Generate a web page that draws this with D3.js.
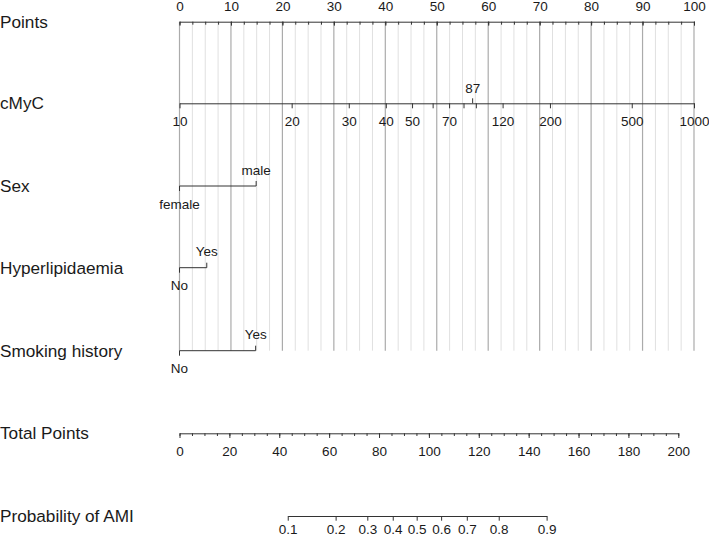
<!DOCTYPE html>
<html>
<head>
<meta charset="utf-8">
<script src="https://cdn.jsdelivr.net/npm/d3@7"></script>
<style>
  body { margin: 0; background: #fff; }
  svg text { font-family: "Liberation Sans", Arial, sans-serif; }
</style>
</head>
<body>
<div id="chart"></div>
<script>
// nomogram values
const rowNames = ["Points", "cMyC", "Sex", "Hyperlipidaemia", "Smoking history", "Total Points", "Probability of AMI"];

const pointsTicks = [0, 10, 20, 30, 40, 50, 60, 70, 80, 90, 100];

// cMyC value -> points
const cmycValues = [10, 20, 30, 40, 50, 60, 70, 80, 90, 120, 200, 500, 1000];
const cmycPoints = [0, 21.8, 32.9, 40.1, 45.2, 49.2, 52.4, 55.2, 57.6, 62.8, 72.0, 87.9, 100];
const cmycLabels = [10, 20, 30, 40, 50, 70, 120, 200, 500, 1000];
const cmycMark = [87];

const sexLevels = ["female", "male"];
const sexPoints = [0, 14.9];
const hyperLevels = ["No", "Yes"];
const hyperPoints = [0, 5.3];
const smokeLevels = ["No", "Yes"];
const smokePoints = [0, 14.8];

const totalTicks = [0, 20, 40, 60, 80, 100, 120, 140, 160, 180, 200];

// probability -> total points
const probValues = [0.1, 0.2, 0.3, 0.4, 0.5, 0.6, 0.7, 0.8, 0.9];
const probTotal = [43.4, 62.6, 75.3, 85.5, 95.1, 104.9, 115.2, 128.0, 147.2];

const width = 709, height = 538;
const rowY = [21.7, 103.3, 186, 267.7, 350.7, 433.3, 516];
const lineColor = "#333";
const textColor = "#1a1a1a";
const tickFont = 13.5;

const svg = d3.select("#chart").append("svg")
    .attr("width", width)
    .attr("height", height);

const x = d3.scaleLinear().domain([0, 100]).range([179.5, 694]);
const xTotal = d3.scaleLinear().domain([0, 200]).range([179.5, 678.3]);
const xCmyc = d3.scaleLinear().domain(cmycValues).range(cmycPoints.map(p => x(p)));
const xProb = d3.scaleLinear().domain(probValues).range(probTotal.map(t => xTotal(t)));

// grid lines behind everything
const grid = svg.append("g").attr("class", "grid");
grid.selectAll("line")
    .data(d3.range(0, 100.01, 2.5))
    .enter().append("line")
    .attr("x1", d => x(d))
    .attr("x2", d => x(d))
    .attr("y1", rowY[0])
    .attr("y2", rowY[4])
    .attr("stroke", d => d % 10 === 0 ? "#ababab" : "#e0e0e0")
    .attr("stroke-width", d => d % 10 === 0 ? 1.2 : 1);

// row labels
svg.append("g").selectAll("text")
    .data(rowNames)
    .enter().append("text")
    .attr("x", 0)
    .attr("y", (d, i) => rowY[i] + 6)
    .attr("font-size", 17.2)
    .attr("fill", textColor)
    .text(d => d);

function styleAxis(g) {
    g.attr("font-family", null).attr("font-size", tickFont);
    g.select(".domain").attr("stroke", lineColor);
    g.selectAll(".tick line").attr("stroke", lineColor);
    g.selectAll(".tick text").attr("fill", textColor);
}

// Points axis: labels above, ticks pointing down
svg.append("g")
    .attr("transform", `translate(0,${rowY[0]})`)
    .call(d3.axisTop(x).tickValues(d3.range(0, 100.01, 2.5)).tickFormat("").tickSizeInner(-3).tickSizeOuter(0))
    .call(styleAxis);
svg.append("g")
    .attr("transform", `translate(0,${rowY[0]})`)
    .call(d3.axisTop(x).tickValues(pointsTicks).tickSizeInner(-4).tickSizeOuter(0).tickPadding(10.5))
    .call(styleAxis)
    .call(g => g.select(".domain").remove());

// cMyC axis
svg.append("g")
    .attr("transform", `translate(0,${rowY[1]})`)
    .call(d3.axisBottom(xCmyc).tickValues(cmycValues)
        .tickFormat(d => cmycLabels.includes(d) ? d : "")
        .tickSizeInner(5).tickSizeOuter(0).tickPadding(8.3))
    .call(styleAxis);
svg.append("g")
    .attr("transform", `translate(0,${rowY[1]})`)
    .call(d3.axisTop(xCmyc).tickValues(cmycMark).tickSizeInner(5).tickSizeOuter(0).tickPadding(5))
    .call(styleAxis)
    .call(g => g.select(".domain").remove());

// categorical rows
function drawCategory(y, levels, pts) {
    const g = svg.append("g").attr("transform", `translate(0,${y})`);
    g.append("line")
        .attr("x1", x(d3.min(pts)))
        .attr("x2", x(d3.max(pts)))
        .attr("stroke", lineColor);
    levels.forEach((lev, i) => {
        const up = i % 2 === 1;
        g.append("line")
            .attr("x1", x(pts[i])).attr("x2", x(pts[i]))
            .attr("y1", 0).attr("y2", up ? -5 : 5)
            .attr("stroke", lineColor);
        g.append("text")
            .attr("x", x(pts[i]))
            .attr("y", up ? -11.5 : 22.5)
            .attr("text-anchor", "middle")
            .attr("font-size", tickFont)
            .attr("fill", textColor)
            .text(lev);
    });
}
drawCategory(rowY[2], sexLevels, sexPoints);
drawCategory(rowY[3], hyperLevels, hyperPoints);
drawCategory(rowY[4], smokeLevels, smokePoints);

// Total points axis
svg.append("g")
    .attr("transform", `translate(0,${rowY[5]})`)
    .call(d3.axisBottom(xTotal).tickValues(d3.range(0, 200.01, 5)).tickFormat("").tickSizeInner(2.7).tickSizeOuter(0))
    .call(styleAxis);
svg.append("g")
    .attr("transform", `translate(0,${rowY[5]})`)
    .call(d3.axisBottom(xTotal).tickValues(totalTicks).tickSizeInner(4.7).tickSizeOuter(0).tickPadding(8))
    .call(styleAxis)
    .call(g => g.select(".domain").remove());

// Probability axis
svg.append("g")
    .attr("transform", `translate(0,${rowY[6]})`)
    .call(d3.axisBottom(xProb).tickValues(probValues).tickFormat(d3.format(".1f"))
        .tickSizeInner(4.7).tickSizeOuter(0).tickPadding(4.2))
    .call(styleAxis);
</script>
</body>
</html>
